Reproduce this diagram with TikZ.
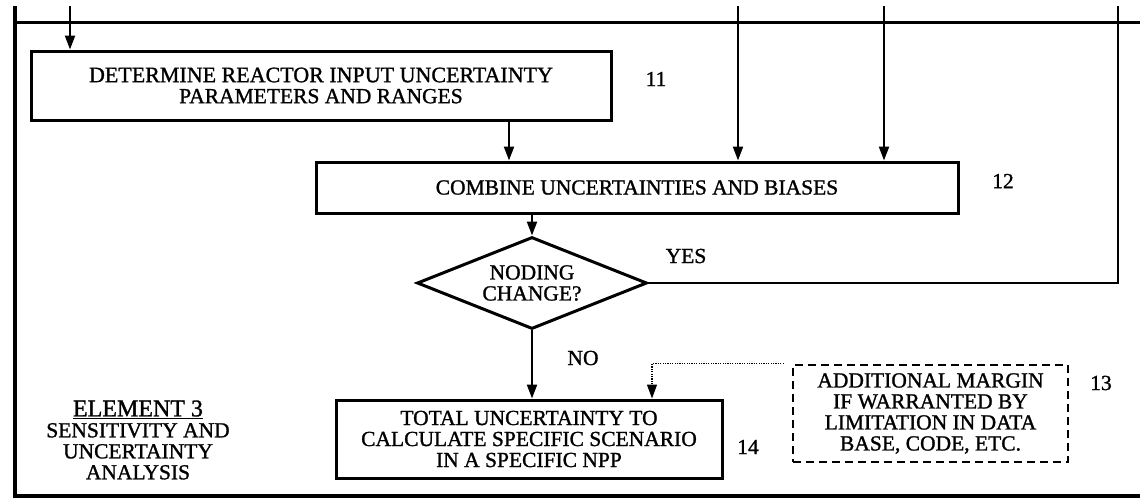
\documentclass[tikz,border=0pt]{standalone}
\usepackage{fontspec}
\setmainfont{Liberation Serif}[FakeBold=1.2]
\usetikzlibrary{shapes.geometric,arrows.meta,calc}
\begin{document}
\begin{tikzpicture}[x=1pt,y=-1pt,
  every node/.style={font=\fontsize{21.5}{21}\selectfont},
  box/.style={draw,line width=3,rectangle,inner sep=0,align=center},
  dbox/.style={draw,line width=2.6,dash pattern=on 8 off 5,rectangle,inner sep=0,align=center},
  dec/.style={draw,line width=3,diamond,aspect=2.5,inner sep=6,align=center},
  conn/.style={line width=2.2},
  arr/.style={line width=2.2,-{Triangle[width=10,length=14]}},
  dotarr/.style={line width=1.4,dash pattern=on 1.2 off 1.2,-{Triangle[width=10,length=14]}},
  frame/.style={line width=3},
  lbl/.style={inner sep=0}]
\useasboundingbox (0,0) rectangle (1140,498);
% frame
\coordinate (fl) at (15,6);
\coordinate (fbl) at (15,496);
\coordinate (fbr) at (1140,496);
\coordinate (ftl) at (15,22);
\coordinate (ftr) at (1140,22);
\draw[line width=4] (fl) -- (fbl) -- (fbr);
\draw[frame] (ftl) -- (ftr);
% nodes
\node[box,minimum width=580,minimum height=69] (b11) at (321,85.5)
  {\fontsize{22}{22}\selectfont DETERMINE REACTOR INPUT UNCERTAINTY\\PARAMETERS AND RANGES};
\node[box,minimum width=642,minimum height=51] (b12) at (637,187.5)
  {COMBINE UNCERTAINTIES AND BIASES};
\node[dec] (dc) at (532,283)
  {NODING\\CHANGE?};
\node[box,minimum width=386,minimum height=78] (b14) at (529,439)
  {\fontsize{21.5}{20}\selectfont TOTAL UNCERTAINTY TO\\CALCULATE SPECIFIC SCENARIO\\IN A SPECIFIC NPP};
\node[dbox,minimum width=275,minimum height=97] (b13) at (930.5,413.5)
  {ADDITIONAL MARGIN\\IF WARRANTED BY\\LIMITATION IN DATA\\BASE, CODE, ETC.};
\node[lbl] (n11) at (656,79) {11};
\node[lbl] (n12) at (1003,181) {12};
\node[lbl] (n13) at (1101,383) {13};
\node[lbl] (n14) at (748,447) {14};
\node[lbl] (yes) at (686,256) {YES};
\node[lbl] (no) at (583,358) {NO};
\node[lbl,align=center] (el) at (138,440)
  {\fontsize{21.5}{20}\selectfont{\fontsize{24}{20}\selectfont\underline{ELEMENT 3}}\\SENSITIVITY AND\\UNCERTAINTY\\ANALYSIS};
% coordinates
\coordinate (t1) at (70,6);
\coordinate (t2) at (738,6);
\coordinate (t3) at (884,6);
\coordinate (t4) at (1118,6);
% connectors
\draw[arr] (t1) -- (t1 |- b11.north);
\draw[arr] (t2) -- (t2 |- b12.north);
\draw[arr] (t3) -- (t3 |- b12.north);
\draw[arr] (b11.south -| 509,0) -- (509,0 |- b12.north);
\draw[arr] (b12.south -| dc.north) -- (dc.north);
\draw[conn] (dc.east) -- (dc.east -| t4) -- (t4);
\draw[arr] (dc.south) -- (dc.south |- b14.north);
\coordinate (dx) at (652,0);
\draw[dotarr] ([xshift=-8]b13.north west) -| (dx |- b14.north);
\end{tikzpicture}
\end{document}
